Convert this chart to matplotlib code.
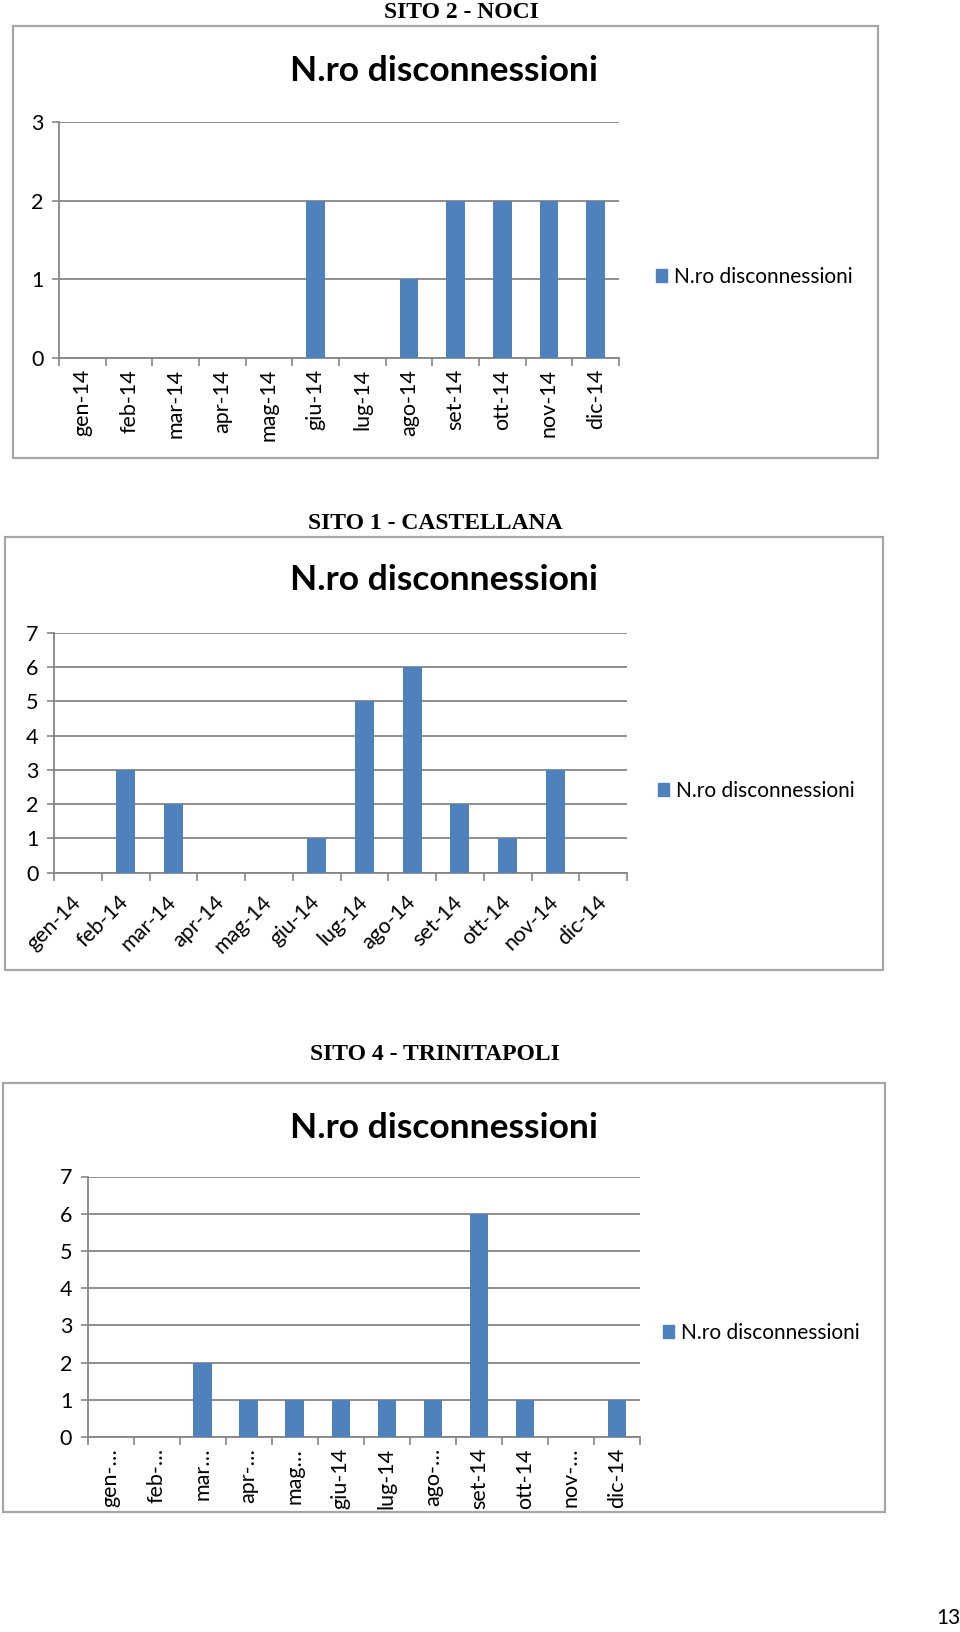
import matplotlib
matplotlib.use("Agg")
import matplotlib.pyplot as plt
from matplotlib.patches import Rectangle, Patch

# ---- data ----
months = ["gen-14", "feb-14", "mar-14", "apr-14", "mag-14", "giu-14",
          "lug-14", "ago-14", "set-14", "ott-14", "nov-14", "dic-14"]
months_trunc = ["gen-…", "feb-…", "mar…", "apr-…", "mag…", "giu-14",
                "lug-14", "ago-…", "set-14", "ott-14", "nov-…", "dic-14"]
noci = [0, 0, 0, 0, 0, 2, 0, 1, 2, 2, 2, 2]
castellana = [0, 3, 2, 0, 0, 1, 5, 6, 2, 1, 3, 0]
trinitapoli = [0, 0, 2, 1, 1, 1, 1, 1, 6, 1, 0, 1]
series_name = "N.ro disconnessioni"
headers = ["SITO 2 - NOCI", "SITO 1 - CASTELLANA", "SITO 4 - TRINITAPOLI"]

W, H = 960, 1632
BAR = "#4F81BD"
GRID = "#868686"
SANS = ["Lato", "DejaVu Sans"]
SERIF = ["Liberation Serif", "DejaVu Serif"]

fig = plt.figure(figsize=(W / 100, H / 100), dpi=100)
fig.patch.set_facecolor("white")


def fx(x):
    return x / W


def fy(y):
    return 1 - y / H


def box(l, t, r, b):
    fig.patches.append(Rectangle((fx(l), fy(b)), fx(r - l), (b - t) / H,
                                 transform=fig.transFigure, fill=False,
                                 edgecolor="#A6A6A6", linewidth=1.6))


def chart(values, labels, header, ymax, plot, boxc, header_xy, title_xy,
          leg_xy, rot):
    l, t, r, b = plot
    box(*boxc)
    fig.text(fx(header_xy[0]), fy(header_xy[1]), header,
             family=SERIF, weight="bold", fontsize=17, ha="center",
             va="center")
    fig.text(fx(title_xy[0]), fy(title_xy[1]), series_name, family=SANS,
             weight="bold", fontsize=25.5, ha="center", va="center")
    ax = fig.add_axes([fx(l), fy(b), fx(r - l), (b - t) / H])
    x = list(range(len(values)))
    ax.bar(x, values, width=0.4, color=BAR, zorder=3)
    ax.set_xlim(-0.5, len(values) - 0.5)
    ax.set_ylim(0, ymax)
    ax.set_yticks(range(ymax + 1))
    ax.yaxis.grid(True, color=GRID, linewidth=1.3, zorder=0)
    for s in ["top", "right"]:
        ax.spines[s].set_visible(False)
    for s in ["left", "bottom"]:
        ax.spines[s].set_color(GRID)
        ax.spines[s].set_linewidth(1.3)
    ax.set_xticks([i - 0.5 for i in range(len(values) + 1)])
    ax.set_xticklabels([])
    ax.set_xticks(x, minor=True)
    ax.tick_params(axis="x", which="major", length=6, color=GRID, width=1.2)
    ax.tick_params(axis="y", length=5, color=GRID, width=1.2, pad=6)
    if rot == 90:
        ax.tick_params(axis="x", which="minor", length=0, pad=8)
        ax.set_xticklabels(labels, minor=True, rotation=90, family=SANS,
                           fontsize=15.5)
    else:
        ax.tick_params(axis="x", which="minor", length=0, pad=19)
        ax.set_xticklabels(labels, minor=True, rotation=45, ha="right",
                           va="center", rotation_mode="anchor", family=SANS,
                           fontsize=15.5)
    for lab in ax.get_yticklabels():
        lab.set_family(SANS)
        lab.set_fontsize(15.5)
    ax.legend(handles=[Patch(color=BAR, label=series_name)],
              loc="center left", bbox_to_anchor=(fx(leg_xy[0]), fy(leg_xy[1])),
              bbox_transform=fig.transFigure, frameon=False,
              handlelength=0.55, handleheight=0.55, handletextpad=0.3,
              borderpad=0, borderaxespad=0,
              prop={"family": SANS, "size": 15})
    return ax


chart(noci, months, headers[0], 3, (59, 122, 619, 358), (12.5, 26, 878, 458),
      (461, 12), (444, 71), (656, 277), 90)
chart(castellana, months, headers[1], 7, (54, 633, 627, 872.5),
      (5, 537, 883, 970), (435, 523), (444, 580), (658, 791), 45)
chart(trinitapoli, months_trunc, headers[2], 7, (87.5, 1176.5, 640, 1437),
      (3, 1083, 885, 1512), (435, 1054), (444, 1128), (663, 1333), 90)

fig.text(fx(948), fy(1618), "13", family=SANS, fontsize=15, ha="center",
         va="center")

fig.savefig("out.png", dpi=100, facecolor="white")
